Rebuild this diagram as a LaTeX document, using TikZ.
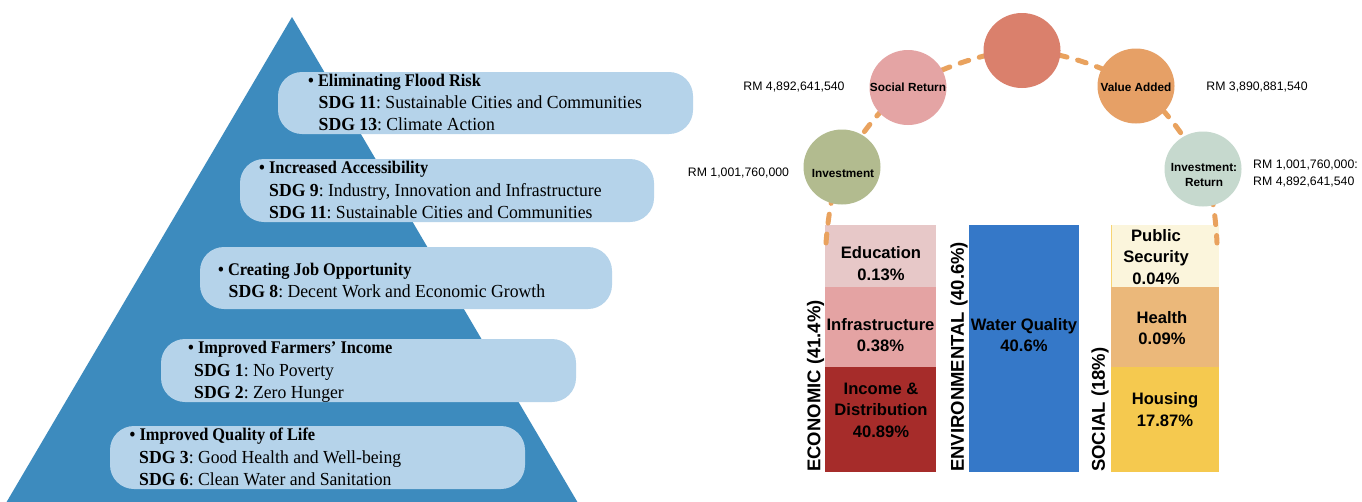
\documentclass[tikz,border=0pt]{standalone}
\usepackage{fontspec}
\setmainfont{Liberation Serif}[FakeStretch=0.96]
\newfontfamily\hdfont[FakeStretch=0.92]{Liberation Serif}
\newfontfamily\sansf{Liberation Sans}
\usetikzlibrary{shapes.geometric}
\frenchspacing
\definecolor{pyr}{HTML}{3D8BBE}
\definecolor{boxc}{HTML}{B5D3EA}
\definecolor{dashc}{HTML}{E9A25E}
\definecolor{cInvC}{HTML}{B2BB8F}
\definecolor{cSocC}{HTML}{E4A4A4}
\definecolor{cTopC}{HTML}{DA806C}
\definecolor{cVaC}{HTML}{E6A066}
\definecolor{cIrC}{HTML}{C6D9CE}
\definecolor{eduC}{HTML}{E7C8C8}
\definecolor{infC}{HTML}{E4A3A3}
\definecolor{incC}{HTML}{A62C2A}
\definecolor{watC}{HTML}{3578C8}
\definecolor{pubC}{HTML}{FBF5DC}
\definecolor{heaC}{HTML}{EBB87A}
\definecolor{houC}{HTML}{F5C94F}
\begin{document}
\frenchspacing
\begin{tikzpicture}[x=1pt,y=-1pt,
  sdgbox/.style={fill=boxc, rounded corners=24pt, inner sep=0pt},
  headtxt/.style={anchor=base west, inner sep=0pt, font=\hdfont\bfseries\fontsize{17.8}{22}\selectfont},
  linetxt/.style={anchor=base west, inner sep=0pt, font=\fontsize{18.4}{22}\selectfont},
  bubble/.style={ellipse, minimum width=77pt, minimum height=75pt, inner sep=0pt},
  bubtxt/.style={inner sep=0pt, align=center, font=\sansf\bfseries\fontsize{11.8}{15}\selectfont},
  rmlab/.style={inner sep=0pt, align=left, font=\sansf\fontsize{12.3}{17}\selectfont},
  seg/.style={inner sep=0pt, anchor=north west},
  bartxt/.style={inner sep=0pt, align=center, font=\sansf\bfseries\fontsize{16.6}{21.5}\selectfont},
  sidetxt/.style={inner sep=0pt, rotate=90, anchor=west, font=\sansf\bfseries\fontsize{18.5}{20}\selectfont},
  dashline/.style={draw=dashc, line width=5pt, line cap=round, dash pattern=on 9pt off 11pt}
]
\useasboundingbox (0,0) rectangle (1362,501);
\fill[white] (0,0) rectangle (1362,501);

% pyramid
\fill[pyr] (292,17) -- (578,503) -- (6,503) -- cycle;

% boxes
\node[sdgbox, minimum width=415pt, minimum height=62pt] (b1) at (485.5,103) {};
\node[sdgbox, minimum width=414pt, minimum height=63pt] (b2) at (447,190.5) {};
\node[sdgbox, minimum width=412pt, minimum height=62pt] (b3) at (406,278) {};
\node[sdgbox, minimum width=415pt, minimum height=63pt] (b4) at (368.5,370.5) {};
\node[sdgbox, minimum width=415pt, minimum height=63pt] (b5) at (317.5,457.5) {};

\node[headtxt] (h1) at (308,86) {\textbullet\ Eliminating Flood Risk};
\node[linetxt] (l11) at (318.5,108) {\textbf{SDG 11}: Sustainable Cities and Communities};
\node[linetxt] (l12) at (318.5,130) {\textbf{SDG 13}: Climate Action};

\node[headtxt] (h2) at (259,173) {\textbullet\ Increased Accessibility};
\node[linetxt] (l21) at (269,196) {\textbf{SDG 9}: Industry, Innovation and Infrastructure};
\node[linetxt] (l22) at (269,218) {\textbf{SDG 11}: Sustainable Cities and Communities};

\node[headtxt] (h3) at (218,275) {\textbullet\ Creating Job Opportunity};
\node[linetxt] (l31) at (228.5,297) {\textbf{SDG 8}: Decent Work and Economic Growth};

\node[headtxt] (h4) at (188,353) {\textbullet\ Improved Farmers’ Income};
\node[linetxt] (l41) at (194,376) {\textbf{SDG 1}: No Poverty};
\node[linetxt] (l42) at (194,398) {\textbf{SDG 2}: Zero Hunger};

\node[headtxt] (h5) at (129.5,440) {\textbullet\ Improved Quality of Life};
\node[linetxt] (l51) at (139,463) {\textbf{SDG 3}: Good Health and Well-being};
\node[linetxt] (l52) at (139,485) {\textbf{SDG 6}: Clean Water and Sanitation};

% bars
\node[seg, fill=eduC, minimum width=111pt, minimum height=62pt] (edu) at (825,225) {};
\node[seg, fill=infC, minimum width=111pt, minimum height=80pt] (inf) at (825,287) {};
\node[seg, fill=incC, minimum width=111pt, minimum height=105pt] (inc) at (825,367) {};
\node[seg, fill=watC, minimum width=110pt, minimum height=247pt] (wat) at (969,225) {};
\node[seg, fill=pubC, minimum width=108pt, minimum height=62pt] (pub) at (1111,225) {};
\draw[houC!80!white, line width=1pt] (pub.north west) -- (pub.south west);
\node[seg, fill=heaC, minimum width=108pt, minimum height=80pt] (hea) at (1111,287) {};
\node[seg, fill=houC, minimum width=108pt, minimum height=105pt] (hou) at (1111,367) {};

\node[bartxt] (tedu) at (881,263.5) {Education\\0.13\%};
\node[bartxt] (tinf) at (880.5,335) {Infrastructure\\0.38\%};
\node[bartxt] (tinc) at (881,410) {Income \&\\Distribution\\40.89\%};
\node[bartxt] (twat) at (1024,335) {Water Quality\\40.6\%};
\node[bartxt] (tpub) at (1156,257) {Public\\Security\\0.04\%};
\node[bartxt] (thea) at (1162,328) {Health\\0.09\%};
\node[bartxt] (thou) at (1165,409.5) {Housing\\17.87\%};

\node[sidetxt] (seco) at (815.5,472) {ECONOMIC (41.4\%)};
\node[sidetxt] (senv) at (959,472) {ENVIRONMENTAL (40.6\%)};
\node[sidetxt] (ssoc) at (1100,472) {SOCIAL (18\%)};

% dashed arc
\coordinate (ecoTop) at (826,243);
\coordinate (socTop) at (1217,243);
\coordinate (pInv) at (842,167);
\coordinate (pSoc) at (908,87.5);
\coordinate (pTop) at (1022,50.5);
\coordinate (pVa) at (1136,86);
\coordinate (pIr) at (1203,169);
\draw[dashline] plot[smooth, tension=0.55] coordinates {(ecoTop) (pInv) (pSoc) (pTop) (pVa) (pIr) (socTop)};

% bubbles
\node[bubble, fill=cInvC] (inv) at (pInv) {};
\node[bubble, fill=cSocC] (soc) at (pSoc) {};
\node[bubble, fill=cTopC] (top) at (pTop) {};
\node[bubble, fill=cVaC] (va) at (pVa) {};
\node[bubble, fill=cIrC] (ir) at (pIr) {};

\node[bubtxt] (tinv) at (843,173) {Investment};
\node[bubtxt] (tsoc) at (908,87) {Social Return};
\node[bubtxt] (tva) at (1136,87.5) {Value Added};
\node[bubtxt] (tir) at (1204,174.5) {Investment:\\Return};

\node[rmlab] (rm1) at (794,87) {RM 4,892,641,540};
\node[rmlab] (rm2) at (738.5,173) {RM 1,001,760,000};
\node[rmlab] (rm3) at (1257,87) {RM 3,890,881,540};
\node[rmlab, anchor=west] (rm4) at (1253,173.5) {RM 1,001,760,000:\\RM 4,892,641,540};
\end{tikzpicture}
\end{document}
